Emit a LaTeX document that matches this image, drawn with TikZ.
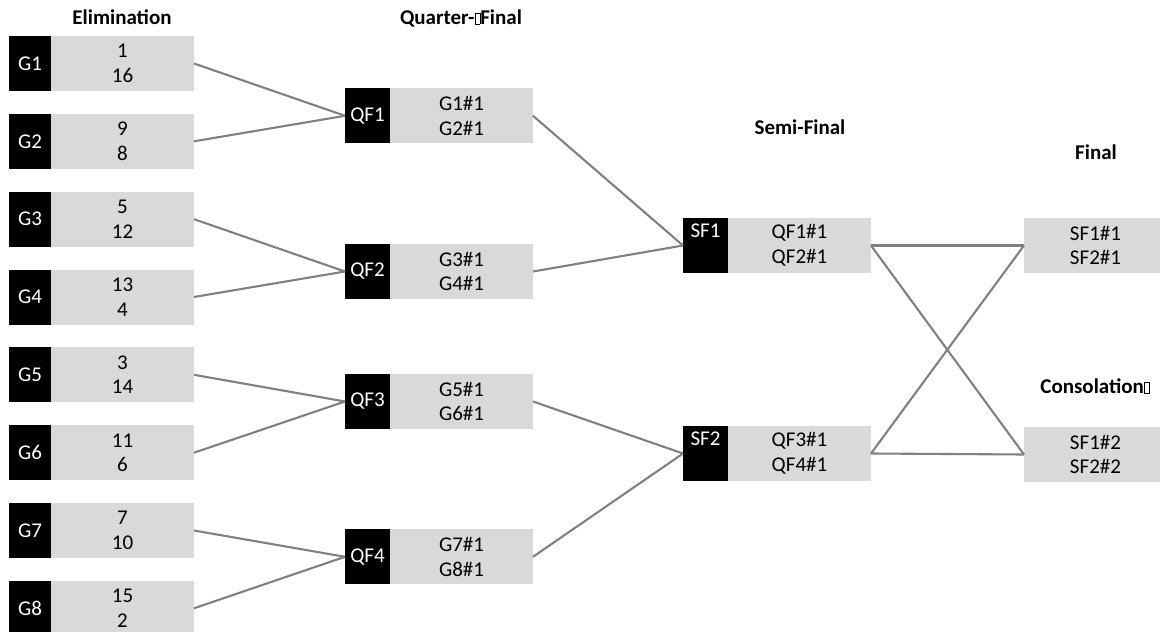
\documentclass[tikz,border=0pt]{standalone}
\usepackage{fontspec}
\setmainfont{Carlito}
\usetikzlibrary{calc}
\definecolor{boxgray}{HTML}{D9D9D9}
\definecolor{linegray}{HTML}{808080}
\newcommand{\tofu}{{\fboxsep=0pt\fboxrule=0.6pt\fbox{\rule{0pt}{10.5pt}\hspace{4.5pt}}}}
\tikzset{
  blk/.style={fill=black, text=white, inner sep=0pt, outer sep=0pt, minimum height=55pt, font=\fontsize{21}{25}\selectfont},
  gry/.style={fill=boxgray, inner sep=0pt, outer sep=0pt, minimum height=55pt, minimum width=143pt, align=center, font=\fontsize{21}{24.5}\selectfont},
  lbl/.style={anchor=base, inner sep=0pt, text=white, font=\fontsize{21}{25}\selectfont},
  hdr/.style={anchor=base, inner sep=0pt, font=\fontsize{21}{25}\selectfont\bfseries},
  conn/.style={draw=linegray, line width=2.1pt},
}
\newcommand{\game}[6]{%
  \node[blk, minimum width=#5pt, anchor=north west] (#1b) at (#3,#4) {#2};
  \node[gry, anchor=north west] (#1) at (#3+#5,#4) {#6};
}
\begin{document}
\begin{tikzpicture}[x=1pt,y=-1pt]
\useasboundingbox (0,0) rectangle (1160,632);
\clip (0,0) rectangle (1160,632);

% headers
\node[hdr] (hElim) at (122,24) {Elimination};
\node[hdr] (hQF) at (461,24) {Quarter-\tofu Final};
\node[hdr] (hSF) at (800,134) {Semi-Final};
\node[hdr] (hF) at (1096,159) {Final};
\node[hdr] (hC) at (1095,393) {Consolation\tofu};

% elimination
\game{G1}{G1}{9}{36}{42}{1\\16}
\game{G2}{G2}{9}{113.8}{42}{9\\8}
\game{G3}{G3}{9}{191.7}{42}{5\\12}
\game{G4}{G4}{9}{269.5}{42}{13\\4}
\game{G5}{G5}{9}{347.3}{42}{3\\14}
\game{G6}{G6}{9}{425.2}{42}{11\\6}
\game{G7}{G7}{9}{503}{42}{7\\10}
\game{G8}{G8}{9}{580.8}{42}{15\\2}

% quarter-finals
\game{QF1}{QF1}{345}{88.3}{45}{G1\#1\\G2\#1}
\game{QF2}{QF2}{345}{244}{45}{G3\#1\\G4\#1}
\game{QF3}{QF3}{345}{374}{45}{G5\#1\\G6\#1}
\game{QF4}{QF4}{345}{529.3}{45}{G7\#1\\G8\#1}

% semi-finals
\game{SF1}{}{683}{218}{45}{QF1\#1\\QF2\#1}
\node[lbl] (SF1l) at ($(SF1b.north)+(0,19)$) {SF1};
\game{SF2}{}{683}{426}{45}{QF3\#1\\QF4\#1}
\node[lbl] (SF2l) at ($(SF2b.north)+(0,19)$) {SF2};

% final and consolation
\node[gry, anchor=north west] (FIN) at (1024,218) {SF1\#1\\SF2\#1};
\node[gry, anchor=north west] (CON) at (1024,427) {SF1\#2\\SF2\#2};

% connectors
\draw[conn] (G1.east) -- (QF1b.west);
\draw[conn] (G2.east) -- (QF1b.west);
\draw[conn] (G3.east) -- (QF2b.west);
\draw[conn] (G4.east) -- (QF2b.west);
\draw[conn] (G5.east) -- (QF3b.west);
\draw[conn] (G6.east) -- (QF3b.west);
\draw[conn] (G7.east) -- (QF4b.west);
\draw[conn] (G8.east) -- (QF4b.west);
\draw[conn] (QF1.east) -- (SF1b.west);
\draw[conn] (QF2.east) -- (SF1b.west);
\draw[conn] (QF3.east) -- (SF2b.west);
\draw[conn] (QF4.east) -- (SF2b.west);
\draw[conn] (SF1.east) -- (FIN.west);
\draw[conn] (SF1.east) -- (CON.west);
\draw[conn] (SF2.east) -- (FIN.west);
\draw[conn] (SF2.east) -- (CON.west);
\end{tikzpicture}
\end{document}
